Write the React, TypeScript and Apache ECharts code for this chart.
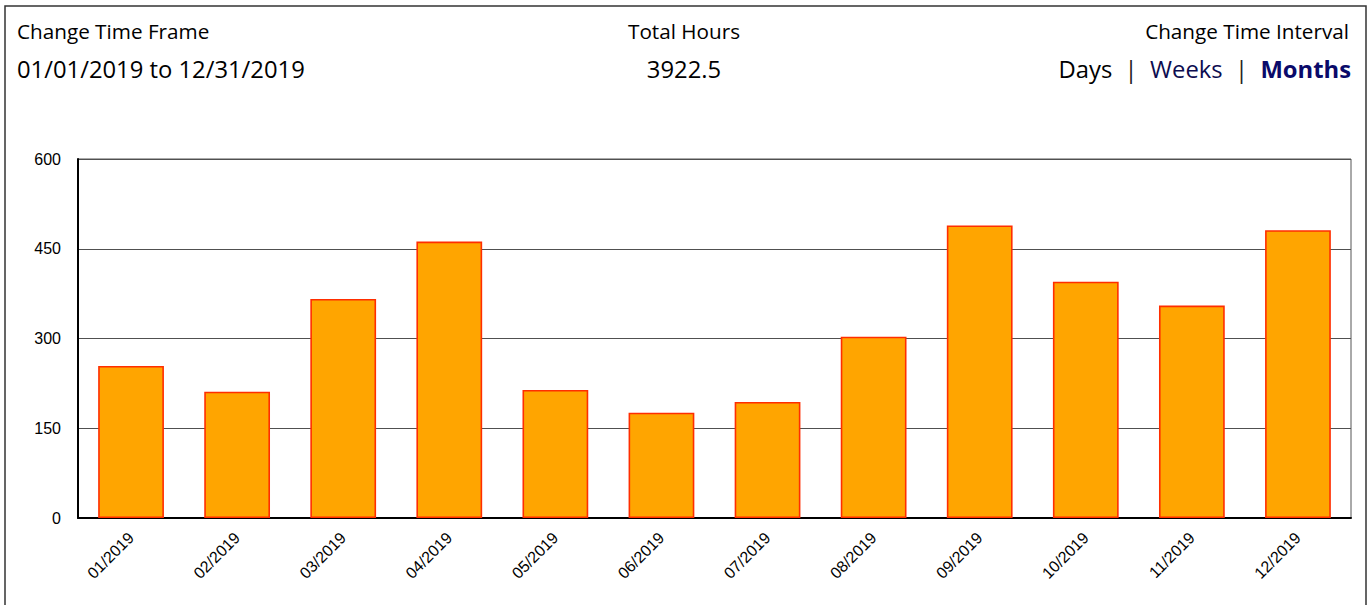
import React, { useEffect, useRef } from "react";
import * as echarts from "echarts";

const categories = ["01/2019", "02/2019", "03/2019", "04/2019", "05/2019", "06/2019", "07/2019", "08/2019", "09/2019", "10/2019", "11/2019", "12/2019"];
const hours = [254, 211, 366, 462, 214, 176, 194, 303, 489, 395, 355, 481];
const yTicks = [0, 150, 300, 450, 600];
const timeFrameLabel = "Change Time Frame";
const timeFrameValue = "01/01/2019 to 12/31/2019";
const totalLabel = "Total Hours";
const totalValue = "3922.5";
const intervalLabel = "Change Time Interval";

const HEADER_FONT = "'Open Sans', 'Noto Sans', sans-serif";
const AXIS_FONT = "'Liberation Sans', Arial, sans-serif";

export default function App() {
  const ref = useRef<HTMLDivElement>(null);
  useEffect(() => {
    if (!ref.current) return;
    const chart = echarts.init(ref.current, undefined, { renderer: "svg" });
    chart.setOption({
      animation: false,
      backgroundColor: "#ffffff",
      grid: {
        left: 78,
        right: 21,
        top: 159,
        bottom: 87,
        show: true,
        borderColor: "#555",
        borderWidth: 1,
        containLabel: false,
      },
      xAxis: {
        type: "category",
        data: categories,
        axisLine: { show: true, lineStyle: { color: "#000", width: 2 } },
        axisTick: { show: false },
        axisLabel: {
          rotate: 45,
          fontFamily: AXIS_FONT,
          fontSize: 16,
          color: "#000",
          margin: 17,
          interval: 0,
        },
      },
      yAxis: {
        type: "value",
        min: yTicks[0],
        max: yTicks[yTicks.length - 1],
        interval: 150,
        axisLine: { show: true, lineStyle: { color: "#000", width: 2 } },
        axisTick: { show: false },
        axisLabel: {
          fontFamily: AXIS_FONT,
          fontSize: 16,
          color: "#000",
          margin: 17,
        },
        splitLine: { show: true, lineStyle: { color: "#505050", width: 1.2 } },
      },
      series: [
        {
          type: "bar",
          data: hours,
          barWidth: "62%",
          itemStyle: {
            color: "#FFA500",
            borderColor: "#FF2E00",
            borderWidth: 1.6,
          },
        },
      ],
      graphic: [
        {
          type: "rect",
          shape: { x: 5, y: 6, width: 1361, height: 640 },
          style: { fill: "none", stroke: "#333", lineWidth: 1.5 },
          silent: true,
        },
        {
          type: "text",
          x: 17,
          y: 20,
          style: { text: timeFrameLabel, font: `20.7px ${HEADER_FONT}`, fill: "#000" },
        },
        {
          type: "text",
          x: 17,
          y: 57,
          style: { text: timeFrameValue, font: `23.8px ${HEADER_FONT}`, fill: "#000" },
        },
        {
          type: "text",
          x: 684,
          y: 20,
          style: { text: totalLabel, font: `20.7px ${HEADER_FONT}`, fill: "#000", align: "center" },
        },
        {
          type: "text",
          x: 684,
          y: 57,
          style: { text: totalValue, font: `23.8px ${HEADER_FONT}`, fill: "#000", align: "center" },
        },
        {
          type: "text",
          x: 1349,
          y: 20,
          style: { text: intervalLabel, font: `20.7px ${HEADER_FONT}`, fill: "#000", align: "right" },
        },
        {
          type: "text",
          x: 1351,
          y: 57,
          style: {
            align: "right",
            text: "{d|Days}{s|  |  }{w|Weeks}{s|  |  }{m|Months}",
            rich: {
              d: { font: `23.8px ${HEADER_FONT}`, fill: "#000" },
              s: { font: `23.8px ${HEADER_FONT}`, fill: "#222" },
              w: { font: `23.8px ${HEADER_FONT}`, fill: "#0c0c50" },
              m: { font: `bold 23.8px ${HEADER_FONT}`, fill: "#0a0a6a" },
            },
          },
        },
      ],
    });
    return () => chart.dispose();
  }, []);
  return (
    <div
      ref={ref}
      style={{ position: "fixed", left: 0, top: 0, width: 1372, height: 605, background: "#fff" }}
    />
  );
}
